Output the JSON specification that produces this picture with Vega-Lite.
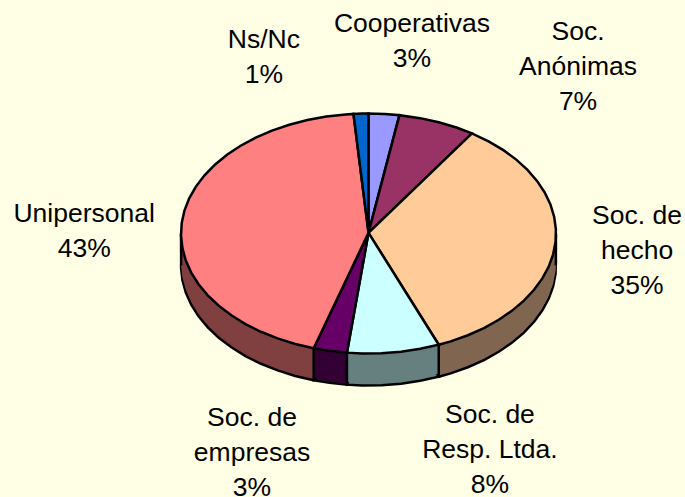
{"$schema":"https://vega.github.io/schema/vega-lite/v6.json","width":685,"height":497,"autosize":{"type":"none"},"padding":0,"background":"#FFFFE5","config":{"view":{"stroke":null}},
"datasets":{
"slices":[
{"type":"Feature","properties":{"name":"Cooperativas","pct":3},"geometry":{"type":"Polygon","coordinates":[[[0,90],[180,89.5],[175,89.5],[170.5,89.5],[0,90]]]}},
{"type":"Feature","properties":{"name":"Soc. Anónimas","pct":7},"geometry":{"type":"Polygon","coordinates":[[[0,90],[170.5,89.5],[164,89.5],[158,89.5],[152,89.5],[146.5,89.5],[0,90]]]}},
{"type":"Feature","properties":{"name":"Soc. de hecho","pct":35},"geometry":{"type":"Polygon","coordinates":[[[0,90],[146.5,89.5],[140,89.5],[134,89.5],[128,89.5],[122,89.5],[116,89.5],[110,89.5],[104,89.5],[98,89.5],[92,89.5],[86,89.5],[80,89.5],[74,89.5],[68,89.5],[62,89.5],[56,89.5],[50,89.5],[44,89.5],[38,89.5],[32,89.5],[26,89.5],[22,89.5],[0,90]]]}},
{"type":"Feature","properties":{"name":"Soc. de Resp. Ltda.","pct":8},"geometry":{"type":"Polygon","coordinates":[[[0,90],[22,89.5],[16,89.5],[10,89.5],[4,89.5],[-2,89.5],[-6.6,89.5],[0,90]]]}},
{"type":"Feature","properties":{"name":"Soc. de empresas","pct":3},"geometry":{"type":"Polygon","coordinates":[[[0,90],[-6.6,89.5],[-12,89.5],[-17,89.5],[0,90]]]}},
{"type":"Feature","properties":{"name":"Unipersonal","pct":43},"geometry":{"type":"Polygon","coordinates":[[[0,90],[-17,89.5],[-23,89.5],[-29,89.5],[-35,89.5],[-41,89.5],[-47,89.5],[-53,89.5],[-59,89.5],[-65,89.5],[-71,89.5],[-77,89.5],[-83,89.5],[-89,89.5],[-95,89.5],[-101,89.5],[-107,89.5],[-113,89.5],[-119,89.5],[-125,89.5],[-131,89.5],[-137,89.5],[-143,89.5],[-149,89.5],[-155,89.5],[-161,89.5],[-167,89.5],[-173,89.5],[-175.4,89.5],[0,90]]]}},
{"type":"Feature","properties":{"name":"Ns/Nc","pct":1},"geometry":{"type":"Polygon","coordinates":[[[0,90],[-175.4,89.5],[-178,89.5],[-180,89.5],[0,90]]]}}
],
"edges":[
{"lon":22,"lat":89.5,"lon2":17.42,"lat2":89.374},
{"lon":-6.6,"lat":89.5,"lon2":-5.21,"lat2":89.367},
{"lon":-17,"lat":89.5,"lon2":-13.44,"lat2":89.371},
{"lon":90,"lat":89.5,"lon2":75.07,"lat2":89.483},
{"lon":-90,"lat":89.5,"lon2":-75.07,"lat2":89.483}
],
"labels":[
{"label":"Ns/Nc\n1%","lon":-161.01,"lat":89.143},
{"label":"Cooperativas\n3%","lon":172.48,"lat":89.114},
{"label":"Soc.\nAnónimas\n7%","lon":146.56,"lat":88.986},
{"label":"Soc. de\nhecho\n35%","lon":95.95,"lat":89.28},
{"label":"Soc. de\nResp. Ltda.\n8%","lon":23.29,"lat":89.181},
{"label":"Soc. de\nempresas\n3%","lon":-22.15,"lat":89.176},
{"label":"Unipersonal\n43%","lon":-96.4,"lat":89.237}
]},
"layer":[
{"data":{"name":"slices"},
"encoding":{"fill":{"field":"properties.name","type":"nominal","legend":null,"scale":{"domain":["Cooperativas","Soc. Anónimas","Soc. de hecho","Soc. de Resp. Ltda.","Soc. de empresas","Unipersonal","Ns/Nc"],"range":["#4D4D80","#4D1A33","#806650","#668080","#330033","#804040","#003366"]}}},
"layer":[
{"mark":{"type":"geoshape","stroke":"#000000","strokeWidth":2.5},"projection":{"type":"orthographic","rotate":[0,-39.79,0],"precision":0.60,"scale":21486,"translate":[368.5,16774.6]}},
{"mark":{"type":"geoshape","stroke":null},"projection":{"type":"orthographic","rotate":[0,-39.79,0],"precision":0.61,"scale":21486,"translate":[368.5,16771.6]}},
{"mark":{"type":"geoshape","stroke":null},"projection":{"type":"orthographic","rotate":[0,-39.79,0],"precision":0.62,"scale":21486,"translate":[368.5,16768.6]}},
{"mark":{"type":"geoshape","stroke":null},"projection":{"type":"orthographic","rotate":[0,-39.79,0],"precision":0.63,"scale":21486,"translate":[368.5,16765.6]}},
{"mark":{"type":"geoshape","stroke":null},"projection":{"type":"orthographic","rotate":[0,-39.79,0],"precision":0.64,"scale":21486,"translate":[368.5,16762.6]}},
{"mark":{"type":"geoshape","stroke":null},"projection":{"type":"orthographic","rotate":[0,-39.79,0],"precision":0.65,"scale":21486,"translate":[368.5,16759.6]}},
{"mark":{"type":"geoshape","stroke":null},"projection":{"type":"orthographic","rotate":[0,-39.79,0],"precision":0.66,"scale":21486,"translate":[368.5,16756.6]}},
{"mark":{"type":"geoshape","stroke":null},"projection":{"type":"orthographic","rotate":[0,-39.79,0],"precision":0.67,"scale":21486,"translate":[368.5,16753.6]}},
{"mark":{"type":"geoshape","stroke":null},"projection":{"type":"orthographic","rotate":[0,-39.79,0],"precision":0.68,"scale":21486,"translate":[368.5,16750.6]}},
{"mark":{"type":"geoshape","stroke":null},"projection":{"type":"orthographic","rotate":[0,-39.79,0],"precision":0.69,"scale":21486,"translate":[368.5,16747.6]}},
{"mark":{"type":"geoshape","stroke":null},"projection":{"type":"orthographic","rotate":[0,-39.79,0],"precision":0.70,"scale":21486,"translate":[368.5,16744.6]}}
]},
{"data":{"name":"edges"},"mark":{"type":"rule","color":"#000000","strokeWidth":2.5},
"projection":{"type":"orthographic","rotate":[0,-39.79,0],"precision":0.71,"scale":21486,"translate":[368.5,16742.6]},
"encoding":{"longitude":{"field":"lon","type":"quantitative"},"latitude":{"field":"lat","type":"quantitative"},"longitude2":{"field":"lon2"},"latitude2":{"field":"lat2"}}},
{"data":{"name":"slices"},"mark":{"type":"geoshape","stroke":"#000000","strokeWidth":2.5},
"projection":{"type":"orthographic","rotate":[0,-39.79,0],"precision":0.72,"scale":21486,"translate":[368.5,16742.6]},
"encoding":{"color":{"field":"properties.name","type":"nominal","legend":null,"scale":{"domain":["Cooperativas","Soc. Anónimas","Soc. de hecho","Soc. de Resp. Ltda.","Soc. de empresas","Unipersonal","Ns/Nc"],"range":["#9999FF","#993366","#FFCC99","#CCFFFF","#660066","#FF8080","#0066CC"]}}}},
{"data":{"name":"labels"},"mark":{"type":"text","font":"Liberation Sans","fontSize":26.5,"lineHeight":35,"lineBreak":"\n","align":"center","baseline":"middle","color":"#000000"},
"projection":{"type":"orthographic","rotate":[0,-39.79,0],"precision":0.73,"scale":21486,"translate":[368.5,16742.6]},
"encoding":{"longitude":{"field":"lon","type":"quantitative"},"latitude":{"field":"lat","type":"quantitative"},"text":{"field":"label","type":"nominal"}}}
]}
